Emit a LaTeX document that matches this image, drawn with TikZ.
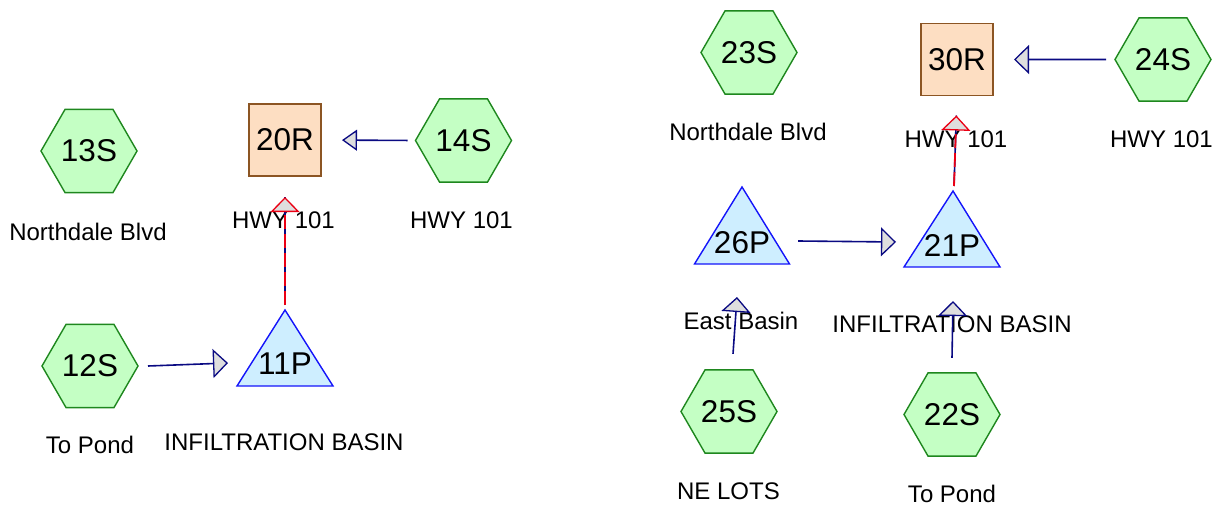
\documentclass[tikz,border=0pt]{standalone}
\usepackage{fontspec}
\setmainfont{Liberation Sans}
\usetikzlibrary{shapes.geometric,arrows.meta,calc,backgrounds}
\definecolor{hexfill}{RGB}{196,255,196}
\definecolor{hexline}{RGB}{30,135,30}
\definecolor{boxfill}{RGB}{253,222,194}
\definecolor{boxline}{RGB}{140,85,35}
\definecolor{pondfill}{RGB}{206,238,255}
\definecolor{pondline}{RGB}{20,20,250}
\definecolor{navyline}{RGB}{10,10,130}
\definecolor{headfill}{RGB}{222,222,222}
\definecolor{redline}{RGB}{235,0,20}
\tikzset{
  subcat/.style={regular polygon, regular polygon sides=6, minimum size=96pt, inner sep=0pt, outer sep=0pt,
    draw=hexline, fill=hexfill, line width=1.4pt, font=\fontsize{31.5}{32}\selectfont},
  reach/.style={rectangle, minimum width=72pt, minimum height=72pt, inner sep=0pt, outer sep=0pt,
    draw=boxline, fill=boxfill, line width=1.4pt, font=\fontsize{31.5}{32}\selectfont},
  pondtxt/.style={inner sep=0pt, outer sep=0pt, font=\fontsize{31.5}{32}\selectfont},
  pondshape/.style={draw=pondline, fill=pondfill, line width=1.4pt, line join=miter},
  lbl/.style={inner sep=0pt, font=\fontsize{24}{24}\selectfont},
  flow/.style={draw=navyline, line width=1.6pt, -{Triangle[length=15pt,width=29pt,fill=headfill,line width=1.3pt]}},
  flownarrow/.style={draw=navyline, line width=1.6pt, -{Triangle[length=15pt,width=21pt,fill=headfill,line width=1.3pt]}},
  redbase/.style={draw=navyline, line width=1.6pt},
  redflow/.style={draw=redline, line width=1.8pt, dash pattern=on 14pt off 5pt,
     -{Triangle[length=15pt,width=29pt,fill=headfill,line width=1.3pt,sep=0pt]}},
}
\begin{document}
\begin{tikzpicture}[x=1pt,y=-1pt]
\useasboundingbox (0,0) rectangle (1220,508);

% ---- left group ----
\node[subcat] (s13) at (89,151) {13S};
\node[lbl] (l13) at (88,232) {Northdale Blvd};
\node[reach] (r20) at (285,140) {20R};
\node[lbl] (l20) at (283.5,220) {HWY 101};
\node[subcat] (s14) at (463.5,140.5) {14S};
\node[lbl] (l14) at (461.5,220) {HWY 101};
\node[subcat] (s12) at (90,366) {12S};
\node[lbl] (l12) at (90,445) {To Pond};
\node[pondtxt] (p11) at (285,364) {11P};
\node[lbl] (l11) at (284,442) {INFILTRATION BASIN};

% ---- right group ----
\node[subcat] (s23) at (749,52.5) {23S};
\node[lbl] (l23) at (748,132) {Northdale Blvd};
\node[reach] (r30) at (957,59.5) {30R};
\node[lbl] (l30) at (956,139) {HWY 101};
\node[subcat] (s24) at (1163,59.5) {24S};
\node[lbl] (l24) at (1161.5,139) {HWY 101};
\node[pondtxt] (p26) at (742,243) {26P};
\node[lbl] (l26) at (741,321) {East Basin};
\node[pondtxt] (p21) at (952,246) {21P};
\node[lbl] (l21) at (952,324) {INFILTRATION BASIN};
\node[subcat] (s25) at (729,411.5) {25S};
\node[lbl] (l25) at (728.5,491) {NE LOTS};
\node[subcat] (s22) at (952,414.5) {22S};
\node[lbl] (l22) at (952,494) {To Pond};

% pond triangles behind their labels
\begin{scope}[on background layer]
  \path[pondshape] ($(p11)+(0,-54)$) -- ($(p11)+(48,22)$) -- ($(p11)+(-48,22)$) -- cycle;
  \path[pondshape] ($(p26)+(0,-56)$) -- ($(p26)+(47.5,21)$) -- ($(p26)+(-47.5,21)$) -- cycle;
  \path[pondshape] ($(p21)+(1,-55)$) -- ($(p21)+(48,21)$) -- ($(p21)+(-48,21)$) -- cycle;
\end{scope}

% connectors
\draw[flownarrow, shorten <=8pt, shorten >=21pt] (s14.west) -- (r20.east);
\draw[redbase, shorten >=21pt] ($(p11)+(0,-59)$) -- (r20.south);
\draw[redflow, shorten >=21pt] ($(p11)+(0,-59)$) -- (r20.south);
\draw[flow] ([xshift=10pt]s12.east) -- ($(p11)+(-57,-1)$);

\draw[flow, shorten <=9pt, shorten >=21pt] (s24.west) -- (r30.east);
\draw[redbase, shorten >=20pt] ($(p21)+(2,-60)$) -- (r30.south);
\draw[redflow, shorten >=20pt] ($(p21)+(2,-60)$) -- (r30.south);
\draw[flow] ($(p26)+(56,-2)$) -- ($(p21)+(-56,-4)$);
\draw[flow] ([xshift=4pt,yshift=16pt]s25.north) -- ($(p26)+(-5,54)$);
\draw[flow] ([yshift=15pt]s22.north) -- ($(p21)+(1,55)$);
\end{tikzpicture}
\end{document}
